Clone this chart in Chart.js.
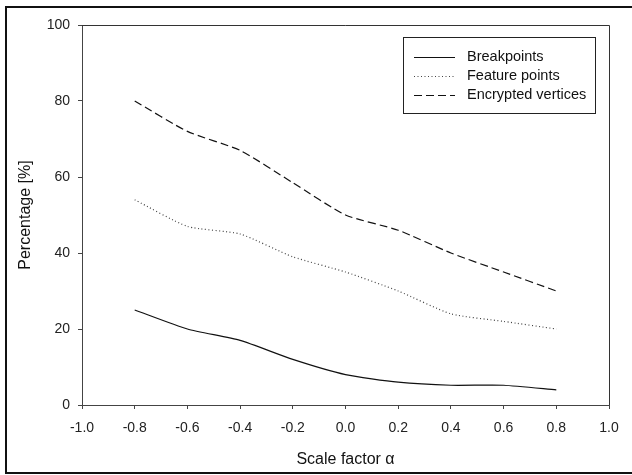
<!DOCTYPE html>
<html>
<head>
<meta charset="utf-8">
<script src="https://cdn.jsdelivr.net/npm/chart.js@4"></script>
<style>
  html, body { margin: 0; padding: 0; background: #fff; }
  #wrap { width: 632px; height: 475px; position: relative; }
</style>
</head>
<body>
<div id="wrap"><canvas id="chart" width="632" height="475"></canvas></div>
<script>
const scaleFactors = [-0.8, -0.6, -0.4, -0.2, 0.0, 0.2, 0.4, 0.6, 0.8];
const breakpoints = [25, 20, 17, 12, 8, 6, 5.2, 5.2, 4];
const featurePoints = [54, 47, 45, 39, 35, 30, 24, 22, 20];
const encryptedVertices = [80, 72, 67, 58.5, 50, 46, 40, 35, 30];
const seriesNames = ['Breakpoints', 'Feature points', 'Encrypted vertices'];

const FONT = "'Liberation Sans', Arial, sans-serif";

const toPoints = vals => vals.map((v, i) => ({ x: scaleFactors[i], y: v }));

// frame around the figure and the plot box
const framePlugin = {
    id: 'frame',
    afterDraw(chart) {
        const { ctx, chartArea: a } = chart;
        ctx.save();
        ctx.strokeStyle = '#111';
        ctx.lineWidth = 2;
        ctx.strokeRect(6, 7, 640, 466);
        ctx.lineWidth = 1;
        ctx.strokeStyle = '#333';
        ctx.beginPath();
        ctx.moveTo(a.left, a.top + 0.5);
        ctx.lineTo(a.right + 0.5, a.top + 0.5);
        ctx.lineTo(a.right + 0.5, a.bottom);
        ctx.stroke();
        ctx.restore();
    }
};

// legend box in the upper right of the plot
const legendBox = {
    id: 'legendBox',
    afterDraw(chart) {
        const { ctx } = chart;
        const x = 403, y = 37, w = 192, h = 76;
        ctx.save();
        ctx.fillStyle = '#fff';
        ctx.fillRect(x, y, w, h);
        ctx.strokeStyle = '#222';
        ctx.lineWidth = 1;
        ctx.strokeRect(x + 0.5, y + 0.5, w, h);
        ctx.font = '14.5px ' + FONT;
        ctx.textBaseline = 'middle';
        chart.data.datasets.forEach((ds, i) => {
            const ly = 57 + i * 19;
            ctx.beginPath();
            ctx.setLineDash(ds.borderDash || []);
            ctx.strokeStyle = ds.borderColor;
            ctx.lineWidth = ds.borderWidth;
            ctx.moveTo(414, ly + 0.5);
            ctx.lineTo(455, ly + 0.5);
            ctx.stroke();
            ctx.setLineDash([]);
            ctx.fillStyle = '#111';
            ctx.fillText(ds.label, 467, ly);
        });
        ctx.restore();
    }
};

new Chart(document.getElementById('chart'), {
    type: 'line',
    data: {
        datasets: [
            { label: seriesNames[0], data: toPoints(breakpoints), borderColor: '#111', borderWidth: 1.2 },
            { label: seriesNames[1], data: toPoints(featurePoints), borderColor: '#444', borderWidth: 1.2, borderDash: [1, 2.5] },
            { label: seriesNames[2], data: toPoints(encryptedVertices), borderColor: '#111', borderWidth: 1.2, borderDash: [8, 4] }
        ]
    },
    options: {
        responsive: false,
        animation: false,
        events: [],
        layout: { padding: { left: 0, right: 23, top: 25, bottom: 0 } },
        elements: { point: { radius: 0 }, line: { tension: 0.2 } },
        scales: {
            x: {
                type: 'linear',
                min: -1, max: 1,
                afterFit: s => { s.height = 70; },
                border: { display: true, color: '#444', width: 1 },
                grid: { display: true, drawOnChartArea: false, drawTicks: true, tickLength: 4, color: '#444' },
                ticks: {
                    stepSize: 0.2, color: '#222', padding: 11,
                    font: { family: FONT, size: 14 },
                    callback: v => Number(v).toFixed(1)
                },
                title: { display: true, text: 'Scale factor α', color: '#111', font: { family: FONT, size: 16 }, padding: { top: 0, bottom: 6 } }
            },
            y: {
                min: 0, max: 100,
                afterFit: s => { s.width = 82; },
                border: { display: true, color: '#444', width: 1 },
                grid: { display: true, drawOnChartArea: false, drawTicks: true, tickLength: 4, color: '#444' },
                ticks: { stepSize: 20, color: '#222', padding: 8, font: { family: FONT, size: 14 } },
                title: { display: true, text: 'Percentage [%]', color: '#111', font: { family: FONT, size: 16 }, padding: { top: 16, bottom: 0 } }
            }
        },
        plugins: { legend: { display: false }, tooltip: { enabled: false } }
    },
    plugins: [framePlugin, legendBox]
});
</script>
</body>
</html>
